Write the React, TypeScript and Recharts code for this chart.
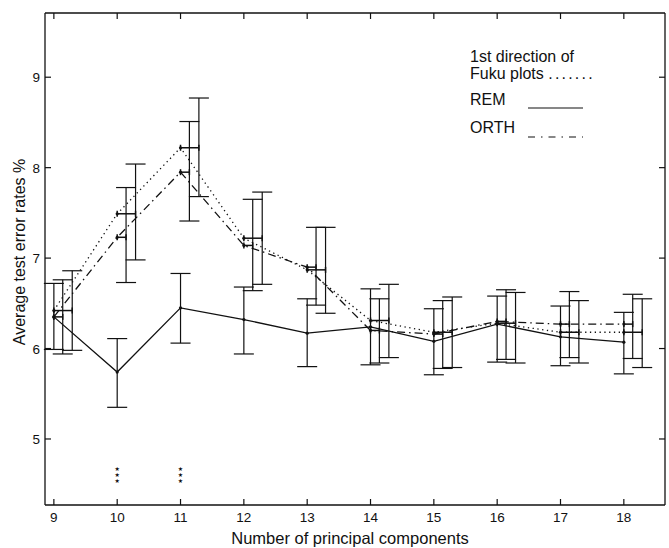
import { ComposedChart, ErrorBar, Legend, Line, ReferenceDot, ReferenceLine, Scatter, XAxis, YAxis } from "recharts"

const COMPONENTS = [9, 10, 11, 12, 13, 14, 15, 16, 17, 18]

const REM = [6.35, 5.74, 6.45, 6.32, 6.17, 6.24, 6.08, 6.27, 6.13, 6.07]
const REM_LO = [5.99, 5.35, 6.06, 5.94, 5.8, 5.82, 5.71, 5.85, 5.81, 5.72]
const REM_HI = [6.72, 6.11, 6.83, 6.68, 6.55, 6.66, 6.44, 6.58, 6.47, 6.4]

const ORTH = [6.35, 7.23, 7.95, 7.14, 6.9, 6.2, 6.16, 6.3, 6.27, 6.27]
const ORTH_LO = [5.94, 6.73, 7.41, 6.64, 6.48, 5.84, 5.78, 5.88, 5.9, 5.89]
const ORTH_HI = [6.76, 7.78, 8.51, 7.65, 7.34, 6.55, 6.53, 6.65, 6.63, 6.6]

const FUKU = [6.42, 7.49, 8.22, 7.22, 6.87, 6.31, 6.18, 6.28, 6.18, 6.18]
const FUKU_LO = [5.98, 6.98, 7.68, 6.71, 6.39, 5.9, 5.79, 5.84, 5.84, 5.79]
const FUKU_HI = [6.86, 8.04, 8.77, 7.73, 7.34, 6.71, 6.57, 6.62, 6.53, 6.55]

// significant differences marked with stars
const STAR_AT = [10, 11]
const STAR_LEVEL = 4.6

const Y_TICKS = [5, 6, 7, 8, 9]

const X_DOMAIN = [8.86, 18.65]
const Y_DOMAIN = [4.27, 9.71]

// error bars of ORTH / Fuku are drawn a little right of the point
const ORTH_SHIFT = 0.14
const FUKU_SHIFT = 0.29

const W = 669
const H = 548
const MARGIN = { top: 13, right: 4, left: 15, bottom: 0 }
const Y_AXIS_W = 30
const X_AXIS_H = 43
const PLOT_TOP = MARGIN.top
const PLOT_BOTTOM = H - MARGIN.bottom - X_AXIS_H
const PLOT_LEFT = MARGIN.left + Y_AXIS_W
const PLOT_RIGHT = W - MARGIN.right

const FONT = "'Liberation Sans', Arial, Helvetica, sans-serif"
const INK = "#111"

const lineRows = COMPONENTS.map((c, i) => ({ x: c, rem: REM[i], orth: ORTH[i], fuku: FUKU[i] }))

function errRows(vals: number[], lo: number[], hi: number[], shift: number) {
  return COMPONENTS.map((c, i) => ({
    x: c + shift,
    y: vals[i],
    ey: [vals[i] - lo[i], hi[i] - vals[i]],
    ex: [shift, 0],
  }))
}

const remErr = errRows(REM, REM_LO, REM_HI, 0)
const orthErr = errRows(ORTH, ORTH_LO, ORTH_HI, ORTH_SHIFT)
const fukuErr = errRows(FUKU, FUKU_LO, FUKU_HI, FUKU_SHIFT)
const starRows = STAR_AT.map((x) => ({ x, y: STAR_LEVEL }))

function XTick({ x, payload }: any) {
  return (
    <g>
      <line x1={x} x2={x} y1={PLOT_BOTTOM} y2={PLOT_BOTTOM - 6} stroke={INK} strokeWidth={1.2} />
      <line x1={x} x2={x} y1={PLOT_TOP} y2={PLOT_TOP + 6} stroke={INK} strokeWidth={1.2} />
      <text x={x} y={PLOT_BOTTOM + 17} textAnchor="middle" fontSize={13.5} fontFamily={FONT} fill={INK}>
        {payload.value}
      </text>
    </g>
  )
}

function YTick({ y, payload }: any) {
  return (
    <g>
      <line x1={PLOT_LEFT} x2={PLOT_LEFT + 6} y1={y} y2={y} stroke={INK} strokeWidth={1.2} />
      <line x1={PLOT_RIGHT} x2={PLOT_RIGHT - 6} y1={y} y2={y} stroke={INK} strokeWidth={1.2} />
      <text x={PLOT_LEFT - 5} y={y + 5} textAnchor="end" fontSize={13.5} fontFamily={FONT} fill={INK}>
        {payload.value}
      </text>
    </g>
  )
}

function Stars({ cx, cy }: any) {
  return (
    <g fontFamily="'DejaVu Sans', sans-serif" fontSize={6} fill={INK} textAnchor="middle">
      <text x={cx} y={cy - 4}>★</text>
      <text x={cx} y={cy + 2}>★</text>
      <text x={cx} y={cy + 8}>★</text>
    </g>
  )
}

function KeyBox() {
  return (
    <svg width={150} height={110} style={{ display: "block" }}>
      <g fontFamily={FONT} fontSize={16} fill={INK}>
        <text x={10} y={22}>1st direction of</text>
        <text x={10} y={39}>
          Fuku plots <tspan letterSpacing={2.2}>.......</tspan>
        </text>
        <text x={10} y={65}>REM</text>
        <text x={10} y={93}>ORTH</text>
      </g>
      <line x1={68} x2={123} y1={68} y2={68} stroke={INK} strokeWidth={1.2} />
      <line x1={68} x2={123} y1={97} y2={97} stroke={INK} strokeWidth={1.2} strokeDasharray="7 6 1.5 6" />
    </svg>
  )
}

const hide = () => <g />

export default function App() {
  return (
    <div style={{ position: "absolute", left: 0, top: 0, background: "#fff" }}>
      <ComposedChart width={W} height={H} data={lineRows} margin={MARGIN}>
        <XAxis
          dataKey="x"
          type="number"
          domain={X_DOMAIN}
          ticks={COMPONENTS}
          allowDataOverflow
          height={X_AXIS_H}
          tick={<XTick />}
          tickLine={false}
          axisLine={{ stroke: INK, strokeWidth: 1.3 }}
          label={{
            value: "Number of principal components",
            position: "insideBottom",
            offset: 4,
            dx: -5,
            fontSize: 16.5,
            fontFamily: FONT,
            fill: INK,
          }}
        />
        <YAxis
          type="number"
          domain={Y_DOMAIN}
          ticks={Y_TICKS}
          allowDataOverflow
          width={Y_AXIS_W}
          tick={<YTick />}
          tickLine={false}
          axisLine={{ stroke: INK, strokeWidth: 1.3 }}
          label={{
            value: "Average test error rates %",
            angle: -90,
            position: "insideLeft",
            offset: 4,
            dy: -7,
            fontSize: 16,
            fontFamily: FONT,
            fill: INK,
            style: { textAnchor: "middle" },
          }}
        />

        {/* frame: top and right edges */}
        <ReferenceLine y={Y_DOMAIN[1]} stroke={INK} strokeWidth={1.3} ifOverflow="visible" />
        <ReferenceLine x={X_DOMAIN[1]} stroke={INK} strokeWidth={1.3} ifOverflow="visible" />

        <Line
          dataKey="fuku"
          stroke={INK}
          strokeWidth={1.3}
          strokeDasharray="1.3 3.5"
          dot={{ r: 1.6, fill: INK, stroke: "none" }}
          activeDot={false}
          isAnimationActive={false}
        />
        <Line
          dataKey="orth"
          stroke={INK}
          strokeWidth={1.3}
          strokeDasharray="8 4 1.5 4"
          dot={{ r: 1.6, fill: INK, stroke: "none" }}
          activeDot={false}
          isAnimationActive={false}
        />
        <Line
          dataKey="rem"
          stroke={INK}
          strokeWidth={1.3}
          dot={{ r: 1.6, fill: INK, stroke: "none" }}
          activeDot={false}
          isAnimationActive={false}
        />

        <Scatter data={remErr} dataKey="y" shape={hide} isAnimationActive={false}>
          <ErrorBar dataKey="ey" direction="y" width={10} stroke={INK} strokeWidth={1.2} />
        </Scatter>
        <Scatter data={orthErr} dataKey="y" shape={hide} isAnimationActive={false}>
          <ErrorBar dataKey="ey" direction="y" width={10} stroke={INK} strokeWidth={1.2} />
          <ErrorBar dataKey="ex" direction="x" width={3} stroke={INK} strokeWidth={1.5} />
        </Scatter>
        <Scatter data={fukuErr} dataKey="y" shape={hide} isAnimationActive={false}>
          <ErrorBar dataKey="ey" direction="y" width={10} stroke={INK} strokeWidth={1.2} />
          <ErrorBar dataKey="ex" direction="x" width={3} stroke={INK} strokeWidth={1.5} />
        </Scatter>

        {starRows.map((s) => (
          <ReferenceDot key={s.x} x={s.x} y={s.y} shape={<Stars />} />
        ))}

        <Legend
          layout="horizontal"
          verticalAlign="middle"
          align="center"
          content={() => <KeyBox />}
          wrapperStyle={{ left: 460, top: 40, width: 150, height: 110 }}
        />
      </ComposedChart>
    </div>
  )
}
